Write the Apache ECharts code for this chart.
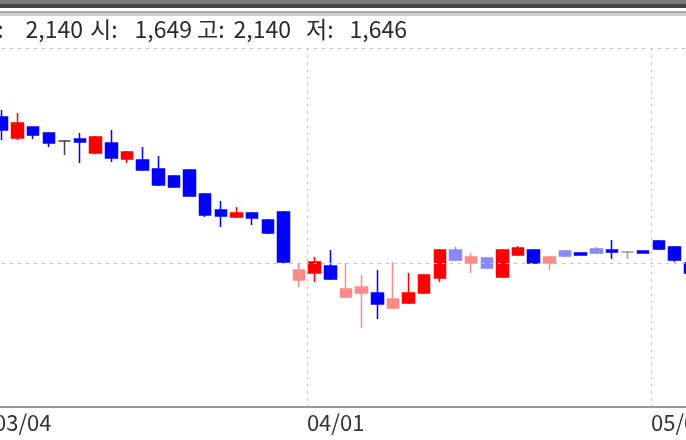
<!DOCTYPE html>
<html><head><meta charset="utf-8">
<script src="https://cdn.jsdelivr.net/npm/echarts@6/dist/echarts.min.js"></script>
<style>html,body{margin:0;padding:0;background:#fff}#c{width:686px;height:440px}</style>
</head><body><div id="c"></div>
<script>
// ---- data ----
const dates = ['03/04','03/05','03/06','03/07','03/08','03/11','03/12','03/13','03/14','03/15',
  '03/18','03/19','03/20','03/21','03/22','03/25','03/26','03/27','03/28','03/29',
  '04/01','04/02','04/03','04/04','04/05','04/08','04/09','04/10','04/11','04/12',
  '04/15','04/16','04/17','04/18','04/19','04/22','04/23','04/24','04/25','04/26',
  '04/29','04/30','05/02','05/03','05/06'];
const opens  = [1931,1910,1921,1915,1907,1909,1895,1905,1889,1888,1879,1872,1878,1854,1838,1831,1835,1828,1836,1768,
                1775,1782,1751,1755,1755,1740,1745,1755,1770,1798,1785,1790,1771,1793,1798,1785,1797,1795,1799,1798,
                1796,1797,1807,1801,1785];
const closes = [1918,1925,1913,1905,1907,1906,1911,1890,1896,1878,1863,1861,1852,1833,1832,1835,1830,1815,1786,1778,
                1786,1769,1759,1761,1744,1749,1755,1773,1798,1788,1791,1780,1798,1800,1785,1791,1792,1793,1795,1796,
                1796,1795,1799,1788,1775];
const lows   = [1908,1908,1909,1901,1893,1885,1894,1886,1885,1877,1862,1860,1851,1831,1821,1830,1823,1814,1785,1761,
                1766,1768,1750,1720,1729,1739,1744,1754,1766,1787,1775,1779,1770,1792,1784,1778,1791,1793,1794,1789,
                1789,1795,1798,1786,1772];
const highs  = [1938,1935,1921,1916,1908,1915,1912,1918,1897,1901,1892,1873,1879,1855,1847,1841,1836,1829,1837,1785,
                1791,1798,1785,1773,1778,1786,1775,1774,1799,1801,1795,1791,1799,1802,1799,1792,1798,1795,1801,1808,
                1797,1797,1808,1802,1786];
const tones  = ['','','','','doji','','','','','','','','','','','','','','','light',
                '','','light','light','','light','','','','light','light','light','','','','light','light','','light','',
                'pale','','','',''];
const tickIndex = [0, 20, 42];
const tickLabels = ['03/04', '04/01', '05/02'];
const gridValues = [2000, 1785];
const headerNames = ['종', '시', '고', '저'];
const headerValues = ['2,140', '1,649', '2,140', '1,646'];

// ---- build ----
const UP = '#ff0000', DOWN = '#0000ff', UPL = '#ff8a8a', DOWNL = '#8888ff';
const candles = dates.map((d, i) => {
  const up = closes[i] >= opens[i];
  let col = up ? UP : DOWN;
  if (tones[i] === 'light') col = up ? UPL : DOWNL;
  if (tones[i] === 'doji') col = '#444444';
  if (tones[i] === 'pale') col = '#9a9a9a';
  return { value: [opens[i], closes[i], lows[i], highs[i]],
    itemStyle: { color: col, color0: col, borderColor: col, borderColor0: col } };
});
const labelAxisData = [];
for (let i = 0; i <= dates.length; i++) {
  const k = tickIndex.indexOf(i);
  labelAxisData.push(k >= 0 ? tickLabels[k] : '');
}
const nameLeft = [-24, 90, 197, 306];
const valueRight = [83, 192, 291, 407];
const FONT = '23px "Noto Sans CJK KR"';
const headerGraphics = [];
headerNames.forEach((n, i) => {
  headerGraphics.push({ type: 'text', x: nameLeft[i], y: 29,
    style: { text: n + ':', fill: '#2a2a2a', font: FONT, textAlign: 'left', textVerticalAlign: 'middle' } });
  headerGraphics.push({ type: 'text', x: valueRight[i], y: 29,
    style: { text: headerValues[i], fill: '#2a2a2a', font: FONT, textAlign: 'right', textVerticalAlign: 'middle' } });
});

const chart = echarts.init(document.getElementById('c'), null, { renderer: 'canvas' });
chart.setOption({
  animation: false,
  backgroundColor: '#ffffff',
  grid: { left: -6, right: -12, top: 48, bottom: 33, containLabel: false, outerBoundsMode: 'none' },
  xAxis: [{
    type: 'category', data: dates, boundaryGap: true,
    axisLine: { show: true, lineStyle: { color: '#999999', width: 2 } },
    axisTick: { show: false }, axisLabel: { show: false }, splitLine: { show: false }
  }, {
    type: 'category', data: labelAxisData, boundaryGap: false, position: 'bottom',
    axisLine: { show: false }, axisTick: { show: false },
    axisLabel: { show: true, interval: 0, align: 'left', margin: 5,
      fontFamily: 'Noto Sans CJK KR', fontSize: 22, color: '#333333' },
    splitLine: { show: true, interval: (idx) => tickIndex.indexOf(idx) >= 0,
      lineStyle: { color: '#c8c8c8', type: [3, 4], width: 1 } }
  }],
  yAxis: { type: 'value', min: 1641, max: 2000, show: false, splitLine: { show: false } },
  series: [{
    type: 'candlestick', xAxisIndex: 0, data: candles, barWidth: 12,
    itemStyle: { color: UP, color0: DOWN, borderColor: UP, borderColor0: DOWN, borderWidth: 1.5 },
    markLine: { silent: true, symbol: 'none', label: { show: false },
      lineStyle: { color: '#c0c0c0', type: [3, 5], width: 1 },
      data: gridValues.map(v => ({ yAxis: v })) }
  }],
  graphic: [
    { type: 'rect', shape: { x: 0, y: 0, width: 686, height: 4 }, style: { fill: '#7a7a7a' } },
    { type: 'rect', shape: { x: 0, y: 4, width: 686, height: 4 }, style: { fill: '#454545' } },
    { type: 'rect', shape: { x: 0, y: 11, width: 686, height: 2 }, style: { fill: '#a8a8a8' } },
    { type: 'rect', shape: { x: 0, y: 13, width: 686, height: 3 }, style: { fill: '#cfcfcf' } }
  ].concat(headerGraphics)
});
</script></body></html>
